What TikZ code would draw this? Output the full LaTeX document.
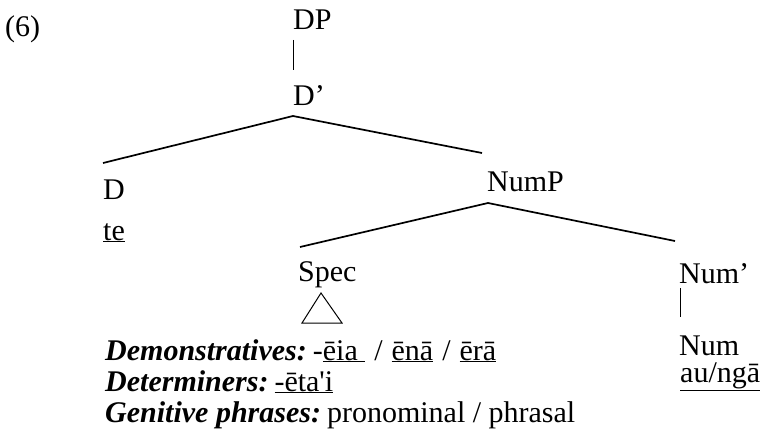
\documentclass[tikz,border=0pt]{standalone}
\usepackage{fontspec}
\setmainfont{Liberation Serif}
% same face without TeX ligature mapping, for a straight apostrophe
\newfontfamily\rawserif{Liberation Serif}[Ligatures=ResetAll]
\newcommand{\cat}[1]{\textbf{\textit{#1}}}
\newcommand{\sep}{\hspace{9pt}/\hspace{9pt}}
\begin{document}
\begin{tikzpicture}[x=1pt,y=-1pt,
  lab/.style={anchor=base west,inner sep=0pt,font=\fontsize{30}{35}\selectfont},
  branch/.style={line width=1.7pt},
  unary/.style={line width=1pt}]
\useasboundingbox (0,0) rectangle (771,444);

% example number
\node[lab] (ex) at (5,37) {(6)};

% tree labels
\node[lab] (DP)     at (293,30)  {DP};
\node[lab] (Dbar)   at (293,105) {D’};
\node[lab] (D)      at (103,199) {D};
\node[lab] (te)     at (103,240) {\underline{te}};
\node[lab] (NumP)   at (487,191) {NumP};
\node[lab] (Spec)   at (298,281) {Spec};
\node[lab] (Numbar) at (679,283) {Num’};
\node[lab] (Num)    at (679,355) {Num};
\node[lab] (aunga)  at (680,382) {\underline{au/ngā}};

% contents of Spec
\node[lab] (dem) at (105,360) {\cat{Demonstratives:}\hspace{6pt}-\underline{ēia\ }\sep\underline{ēnā}\sep\underline{ērā}};
\node[lab] (det) at (105,391) {\cat{Determiners:}\hspace{6pt}\underline{-ēta{\rawserif '}i}};
\node[lab] (gen) at (105,422) {\cat{Genitive phrases:}\hspace{6pt}pronominal / phrasal};

% unary branches
\draw[unary] ([shift={(0,10)}]DP.base west) -- ([shift={(0,-35)}]Dbar.base west);
\draw[unary] ([shift={(1,5)}]Numbar.base west) -- ([shift={(1,-38)}]Num.base west);

% binary branches
\draw[branch] ([shift={(-5,-38)}]NumP.base west)
  -- ([shift={(0,11)}]Dbar.base west)
  -- ([shift={(0,-36)}]D.base west);
\draw[branch] ([shift={(-4,-42)}]Numbar.base west)
  -- ([shift={(1,12)}]NumP.base west)
  -- ([shift={(2,-34)}]Spec.base west);

% triangle under Spec
\draw[unary] ([shift={(23,12)}]Spec.base west)
  -- ([shift={(4,42)}]Spec.base west)
  -- ([shift={(44,42)}]Spec.base west) -- cycle;
\end{tikzpicture}
\end{document}
